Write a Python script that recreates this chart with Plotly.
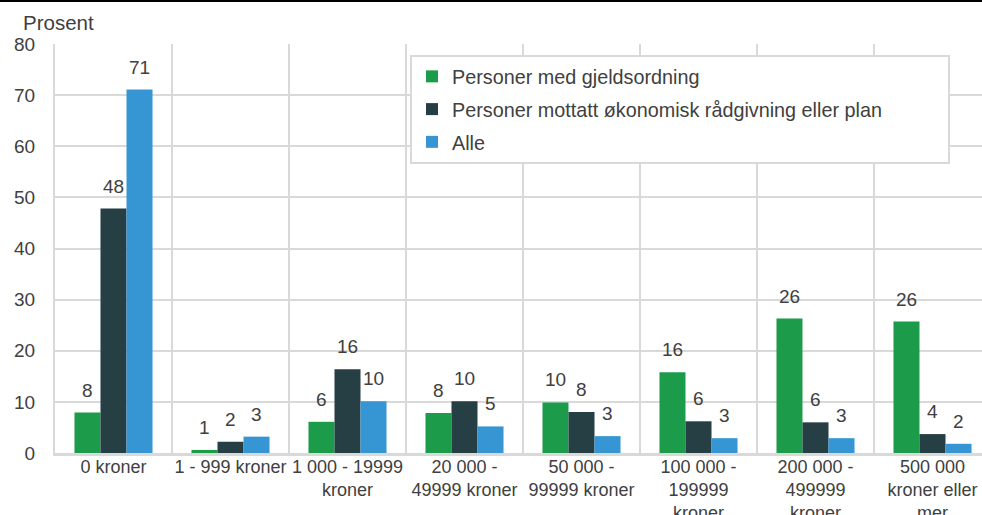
import plotly.graph_objects as go

categories = ["0 kroner", "1 - 999 kroner", "1 000 - 19999<br>kroner", "20 000 -<br>49999 kroner",
              "50 000 -<br>99999 kroner", "100 000 -<br>199999<br>kroner", "200 000 -<br>499999<br>kroner",
              "500 000<br>kroner eller<br>mer"]
series_names = ["Personer med gjeldsordning",
                "Personer mottatt økonomisk rådgivning eller plan",
                "Alle"]
gjeldsordning = [7.9, 0.6, 6.1, 7.8, 9.9, 15.8, 26.3, 25.7]
radgivning = [47.8, 2.2, 16.4, 10.1, 8.0, 6.2, 6.0, 3.7]
alle = [71.1, 3.2, 10.1, 5.2, 3.3, 2.9, 2.9, 1.8]
colors = ["#1c9b4a", "#263f45", "#3596d3"]
y_ticks = [0, 10, 20, 30, 40, 50, 60, 70, 80]

FONT = "Liberation Sans, Arial, sans-serif"
TXT = "#404040"
GRID = "#d9d9d9"

W, H = 982, 515
ml, mr, mt, mb = 55, 0, 44, 62
pw = W - ml - mr
ph = H - mt - mb
cat_px = 117.0
bargap = 0.333

fig = go.Figure()
all_series = [gjeldsordning, radgivning, alle]
for k, (name, vals, col) in enumerate(zip(series_names, all_series, colors)):
    legend_label = name + ("\u00a0" * 11 if k == 1 else "")
    fig.add_trace(go.Bar(
        x=categories, y=vals, name=legend_label, marker=dict(color=col, line=dict(width=0)),
        legendgroup=f"g{k}", hovertemplate=name + "<br>%{x}: %{y}<extra></extra>"))

bw = (1 - bargap) / 3
annotations = []
for k, vals in enumerate(all_series):
    off = (k - 1) * bw
    for i, v in enumerate(vals):
        annotations.append(dict(
            x=i + off, y=v, xref="x", yref="y", text=str(int(round(v))),
            showarrow=False, yanchor="bottom", yshift=10,
            font=dict(family=FONT, size=19, color=TXT)))

annotations.append(dict(
    x=(21 - ml) / pw, y=(H - mb - 22) / ph, xref="paper", yref="paper",
    text="Prosent", showarrow=False, xanchor="left", yanchor="middle",
    font=dict(family=FONT, size=20.5, color=TXT)))

fig.update_layout(
    width=W, height=H,
    margin=dict(l=ml, r=mr, t=mt, b=mb, autoexpand=False),
    paper_bgcolor="white", plot_bgcolor="white",
    barmode="group", bargap=bargap, bargroupgap=0,
    font=dict(family=FONT, color=TXT, size=18),
    xaxis=dict(
        type="category", range=[-0.5, -0.5 + pw / cat_px], automargin=False, tickangle=0,
        tickson="boundaries", ticks="", showgrid=True, gridcolor=GRID, gridwidth=2,
        showline=True, linecolor=GRID, linewidth=3, ticklabelstandoff=-5,
        tickfont=dict(family=FONT, size=18, color=TXT), fixedrange=True),
    yaxis=dict(
        range=[0, 80], tickvals=y_ticks, ticks="", showgrid=True, gridcolor=GRID, gridwidth=2,
        showline=True, linecolor=GRID, linewidth=2, zeroline=False, automargin=False,
        tickfont=dict(family=FONT, size=19, color=TXT), ticklabelstandoff=14, fixedrange=True),
    legend=dict(
        x=(410 - ml) / pw, y=(H - mb - 55) / ph, xanchor="left", yanchor="top",
        bgcolor="white", bordercolor=GRID, borderwidth=2,
        font=dict(family=FONT, size=19.8, color=TXT), tracegroupgap=4,
        traceorder="grouped"),
    annotations=annotations,
    shapes=[dict(type="line", xref="paper", yref="paper",
                 x0=-ml / pw, x1=1, y0=(H - mb - 1) / ph, y1=(H - mb - 1) / ph,
                 line=dict(color="black", width=2))],
)

fig.write_html("out.html", config={"displayModeBar": False},
               post_script="document.body.style.margin='0';")
